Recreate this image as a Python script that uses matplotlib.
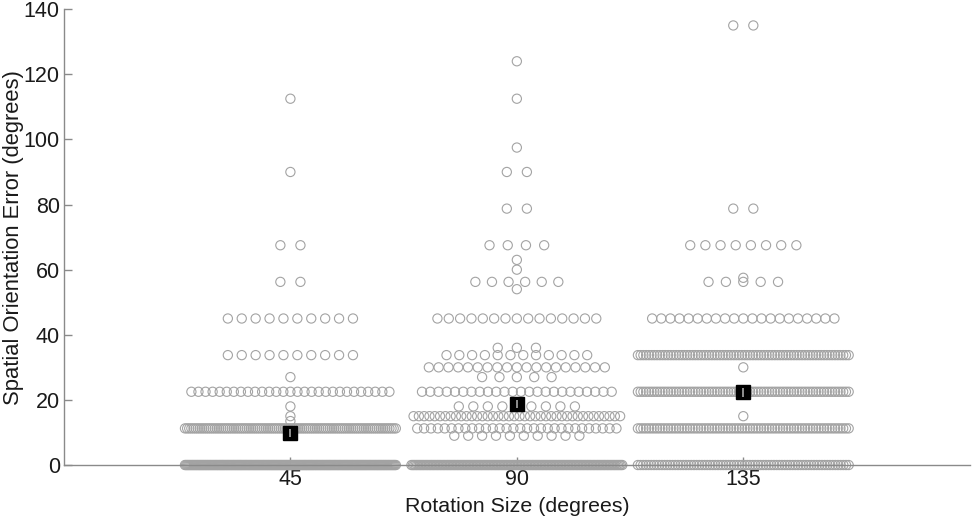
import numpy as np
import matplotlib
matplotlib.use("Agg")
import matplotlib.pyplot as plt

plt.rcParams['font.family'] = ['Liberation Sans', 'DejaVu Sans']

# ---- data ----
rotation_sizes = [45, 90, 135]

levels_45 = [0, 11.25, 13.5, 15, 18, 22.5, 27, 33.75, 45, 56.25, 67.5, 90, 112.5]
counts_45 = [200, 100, 1, 1, 1, 29, 1, 10, 10, 2, 2, 1, 1]

levels_90 = [0, 9, 11.25, 15, 18, 22.5, 27, 30, 33.75, 36, 45, 54, 56.25, 60, 63,
             67.5, 78.75, 90, 97.5, 112.5, 124]
counts_90 = [150, 10, 30, 40, 9, 24, 5, 19, 12, 3, 15, 1, 6, 1, 1, 4, 2, 2, 1, 1, 1]

levels_135 = [0, 11.25, 15, 22.5, 30, 33.75, 45, 56.25, 57.5, 67.5, 78.75, 135]
counts_135 = [80, 78, 1, 78, 1, 78, 21, 5, 1, 8, 2, 2]

means = [9.8, 18.7, 22.3]
errors = [1.3, 1.3, 1.3]

groups = [(levels_45, counts_45), (levels_90, counts_90), (levels_135, counts_135)]

# ---- figure ----
fig = plt.figure(figsize=(9.75, 5.27), dpi=100)
ax = fig.add_axes([0.0656, 0.1176, 0.929, 0.865])

max_width = 41.9  # spread width in x data units


def spread(n):
    if n == 1:
        return np.array([0.0])
    w = max_width * (1 - np.exp(-(n - 1) / 10.0))
    return np.linspace(-w / 2, w / 2, n)


for center, (levels, counts) in zip(rotation_sizes, groups):
    xs, ys = [], []
    for v, c in zip(levels, counts):
        off = spread(c)
        xs.extend(center + off)
        ys.extend([v] * c)
    ax.scatter(xs, ys, s=44, facecolors='none', edgecolors='#a3a3a3',
               linewidths=0.8, zorder=2, clip_on=False)

ax.plot(rotation_sizes, means, linestyle='none', marker='s', markersize=10,
        markerfacecolor='black', markeredgecolor='black', zorder=4)
ax.errorbar(rotation_sizes, means, yerr=errors, fmt='none', ecolor='#9a9a9a',
            elinewidth=1.3, capsize=0, zorder=5)

ax.set_xlim(0, 180)
ax.set_ylim(0, 140)
ax.set_xticks(rotation_sizes)
ax.set_yticks(np.arange(0, 141, 20))

for s in ['top', 'right']:
    ax.spines[s].set_visible(False)
for s in ['left', 'bottom']:
    ax.spines[s].set_color('#8a8a8a')
    ax.spines[s].set_linewidth(1.0)

ax.tick_params(direction='in', length=6, width=1.0, color='#8a8a8a',
               labelsize=15.5, labelcolor='#1a1a1a', pad=3)

ax.set_xlabel('Rotation Size (degrees)', fontsize=15.4, color='#1a1a1a', labelpad=5)
ax.set_ylabel('Spatial Orientation Error (degrees)', fontsize=15.8, color='#1a1a1a', labelpad=0)

fig.savefig('out.png', dpi=100)
